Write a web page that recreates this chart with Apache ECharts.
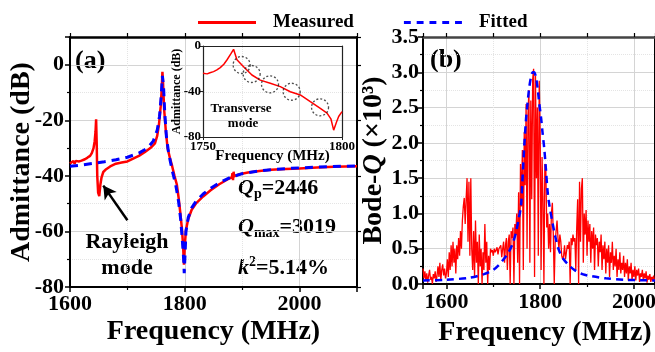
<!DOCTYPE html>
<html><head><meta charset="utf-8">
<script src="https://cdn.jsdelivr.net/npm/echarts@6/dist/echarts.min.js"></script>
<style>html,body{margin:0;padding:0;background:#fff}#c{width:655px;height:352px}</style>
</head><body><div id="c"></div>
<script>
const F = '"Liberation Serif","Times New Roman",serif';

// ---------- panel (a): admittance ----------
const aMeasFreq = [1600,1603,1606,1608,1610,1612,1616,1620,1626,1630,1635,1638,1641,1643,1644.5,1645.5,1646.5,1647.5,1649,1651,1653,1655,1658,1663,1670,1680,1690,1700,1710,1720,1730,1740,1748,1752,1755,1758,1760,1761,1762,1764,1767,1770,1774,1778,1782,1786,1789,1792,1795,1797,1798.5,1800,1802,1806,1812,1820,1832,1845,1860,1875,1882,1883,1884,1885,1886,1888,1895,1910,1930,1950,1975,2000,2030,2060,2100];
const aMeasDb = [-35.5,-35.2,-34.6,-35.6,-34.6,-35.2,-34.8,-34.5,-34,-33.5,-32.8,-31.8,-30,-27.5,-24,-19.6,-28,-40,-46,-47.3,-43,-40.5,-38.6,-37.6,-36.6,-35.6,-35.2,-34.8,-33.8,-32.8,-31.5,-30,-28.3,-25.5,-21.5,-15,-8,-2.5,-6,-16,-24,-30,-33.5,-36.5,-40,-43,-47.5,-53,-59,-65,-72,-65,-59.5,-55.5,-52.2,-49.8,-47.4,-45.2,-43,-41.2,-40.5,-39,-41.5,-38.5,-40.2,-39.8,-39.4,-38.8,-38.2,-37.8,-37.5,-37.3,-37,-36.7,-36.5];
const aFitFreq = [1600,1620,1640,1660,1680,1700,1720,1735,1745,1752,1756,1759,1761,1762,1763,1765,1768,1772,1778,1784,1789,1793,1796,1798,1799,1800.5,1802,1806,1812,1820,1832,1845,1860,1880,1900,1930,1960,2000,2050,2100];
const aFitDb = [-36.5,-36.1,-35.5,-34.9,-34.2,-33.3,-31.8,-30,-27.5,-23.5,-18.5,-11,-4,-3.4,-8,-17,-26,-32,-38,-43,-49,-56,-64,-70,-75,-68,-60,-55,-51.5,-49,-46.5,-44.5,-42.5,-40.5,-39.2,-38.2,-37.6,-37.1,-36.7,-36.4];

// ---------- inset ----------
const insetFreq = [1750,1751.5,1752.5,1753.8,1755,1756.2,1757.5,1758.6,1760,1761,1762.2,1764.6,1767.6,1770.6,1774.2,1777.8,1781.4,1785,1788.6,1792.2,1794.6,1796,1797,1798,1798.8,1800];
const insetDb = [-24,-24.5,-23.5,-22.5,-21,-19,-16,-12.3,-7,-2.9,-12,-18.2,-25.5,-30,-32.8,-35.7,-40.2,-43,-49,-54.8,-59,-64,-74,-67,-62,-57.7];
const circleFreq = [1763.9,1767.5,1774.1,1781.9,1792.1];
const circleDb = [-16.7,-24.6,-33.7,-40.2,-53.9];

// ---------- panel (b): Bode-Q ----------
const bMeasFreq = [1550,1552,1554,1556,1558,1560,1562,1564,1566,1568,1570,1572,1574,1576,1578,1580,1582,1584,1586,1588,1590,1592,1594,1596,1598,1600,1602,1604,1606,1608,1610,1612,1614,1616,1618,1620,1622,1624,1626,1628,1630,1632,1634,1636,1638,1640,1642,1644,1646,1648,1650,1652,1654,1656,1658,1660,1662,1664,1666,1668,1670,1672,1674,1676,1678,1680,1682,1684,1686,1688,1690,1692,1694,1696,1698,1700,1702,1704,1706,1708,1710,1712,1714,1716,1718,1720,1722,1724,1726,1728,1730,1732,1734,1736,1738,1740,1742,1744,1746,1748,1750,1752,1754,1756,1758,1760,1762,1764,1766,1768,1770,1772,1774,1776,1778,1780,1782,1784,1786,1788,1790,1792,1794,1796,1798,1800,1802,1804,1806,1808,1810,1812,1814,1816,1818,1820,1822,1824,1826,1828,1830,1832,1834,1836,1838,1840,1842,1844,1846,1848,1850,1852,1854,1856,1858,1860,1862,1864,1866,1868,1870,1872,1874,1876,1878,1880,1882,1884,1886,1888,1890,1892,1894,1896,1898,1900,1902,1904,1906,1908,1910,1912,1914,1916,1918,1920,1922,1924,1926,1928,1930,1932,1934,1936,1938,1940,1942,1944,1946,1948,1950,1952,1954,1956,1958,1960,1962,1964,1966,1968,1970,1972,1974,1976,1978,1980,1982,1984,1986,1988,1990,1992,1994,1996,1998,2000,2002,2004,2006,2008,2010,2012,2014,2016,2018,2020,2022,2024,2026,2028,2030,2032,2034,2036,2038,2040,2042,2044];
const bMeasQ = [
0.22,0.08,0.18,0.05,0.15,0.02,0.12,0.2,0.06,0.1,
0.0,0.14,0.08,0.18,0.03,0.12,0.25,0.1,0.3,0.05,
0.2,0.28,0.12,0.22,0.08,0.15,0.35,0.1,0.45,0.2,
0.55,0.25,0.6,0.3,0.5,0.15,0.55,0.35,0.65,0.4,
0.75,0.5,0.9,1.1,1.22,0.85,1.2,1.5,0.6,1.45,
0.4,1.5,0.5,0.2,0.75,0.1,0.9,0.3,0.6,0.0,
0.7,0.25,0.5,0.0,0.45,0.2,0.85,0.3,0.6,0.0,
0.4,0.2,0.5,0.45,0.48,0.4,0.5,0.45,0.48,0.52,
0.42,0.5,0.48,0.55,0.38,0.5,0.6,0.3,0.55,0.65,
0.2,0.6,0.7,0.0,0.75,0.65,0.8,0.0,0.85,0.7,
1.0,0.3,1.3,0.0,1.7,1.1,1.9,0.2,2.15,1.4,
2.55,0.5,2.4,2.75,0.3,2.6,1.2,2.9,3.05,0.1,
2.95,1.5,2.5,0.4,2.88,2.1,0.2,1.8,1.2,0.0,
1.7,1.65,0.8,1.0,0.5,0.85,0.45,1.0,1.15,0.7,
0.0,0.6,0.75,0.9,0.65,0.5,0.7,0.6,0.4,0.35,
0.4,0.55,0.35,0.45,0.55,0.5,0.6,0.0,0.65,0.55,
0.7,0.6,0.65,0.2,0.8,1.2,0.0,1.45,0.6,1.35,
1.5,0.3,1.0,0.7,1.05,0.4,0.9,0.6,0.85,0.3,
0.75,0.5,0.8,0.2,0.7,0.55,0.65,0.25,0.6,0.45,
0.7,0.2,0.55,0.35,0.6,0.15,0.5,0.3,0.55,0.1,
0.45,0.3,0.6,0.2,0.4,0.25,0.5,0.1,0.35,0.2,
0.45,0.15,0.3,0.2,0.4,0.1,0.3,0.15,0.35,0.05,
0.25,0.15,0.3,0.05,0.2,0.1,0.25,0.05,0.2,0.12,
0.22,0.03,0.15,0.1,0.2,0.05,0.15,0.08,0.18,0.02,
0.12,0.06,0.14,0.03,0.1,0.05,0.12,0.04];
const bFitFreq = [1550,1600,1650,1680,1700,1712,1722,1730,1740,1748,1754,1759,1762,1766,1770,1773,1777,1781,1784,1787,1791,1795,1798,1802,1805,1809,1812,1816,1820,1826,1832,1840,1850,1862,1875,1890,1910,1940,1980,2045];
const bFitQ = [0.05,0.06,0.09,0.14,0.2,0.27,0.35,0.42,0.55,0.72,0.92,1.1,1.45,1.95,2.35,2.56,2.8,2.95,3.0,3.0,2.93,2.75,2.56,2.35,2.15,1.9,1.65,1.3,1.1,0.88,0.68,0.48,0.35,0.26,0.19,0.14,0.11,0.08,0.06,0.05];

const legendNames = ['Measured', 'Fitted'];

const zip = (xs, ys) => xs.map((x, i) => [x, ys[i]]);
const lbl = (size) => ({fontFamily: F, fontWeight: 'bold', fontSize: size, color: '#000'});
const plain = v => String(v);
const gridLine = {show: true, lineStyle: {color: '#d4d4d4', width: 1}};
const minorGrid = {show: true, lineStyle: {color: '#e4e4e4', width: 1, type: 'dotted'}};

function mainAxis(opts) {
  return Object.assign({
    type: 'value',
    axisLine: {show: true, onZero: false, lineStyle: {color: '#000', width: 2}},
    axisTick: {show: true, length: 5, lineStyle: {color: '#000', width: 1.5}},
    minorTick: {show: true, splitNumber: 2, length: 3, lineStyle: {color: '#000', width: 1.2}},
    splitLine: gridLine,
    minorSplitLine: minorGrid,
    nameMoveOverlap: false
  }, opts);
}
function frameAxis(opts) {
  return Object.assign({
    type: 'value',
    axisLine: {show: true, onZero: false, lineStyle: {color: '#000', width: 2}},
    axisTick: {show: true, length: 4, lineStyle: {color: '#000', width: 1.2}},
    minorTick: {show: false},
    axisLabel: {show: false},
    splitLine: {show: false}
  }, opts);
}

const option = {
  animation: false,
  backgroundColor: '#fff',
  legend: {
    data: [
      {name: legendNames[0], icon: 'path://M0,0h60v3h-60z'},
      {name: legendNames[1], icon: 'path://M0,0h7v3h-7zM13,0h7v3h-7zM26,0h7v3h-7zM39,0h7v3h-7zM52,0h7v3h-7z'}
    ],
    left: 193, top: 8,
    itemWidth: 58, itemHeight: 3, itemGap: 50,
    textStyle: Object.assign(lbl(19), {padding: [0, 0, 0, 12]})
  },
  grid: [
    {left: 70, top: 37, width: 287, height: 250, outerBoundsMode: 'none'},
    {left: 203, top: 46, width: 139, height: 91, outerBoundsMode: 'none'},
    {left: 423, top: 37, width: 232, height: 247, outerBoundsMode: 'none'}
  ],
  xAxis: [
    mainAxis({gridIndex: 0, position: 'bottom', min: 1600, max: 2100, interval: 200,
      axisLabel: Object.assign(lbl(22), {margin: 6, showMaxLabel: false, formatter: plain}),
      name: 'Frequency (MHz)', nameLocation: 'middle', nameGap: 31, nameTextStyle: lbl(28)}),
    frameAxis({gridIndex: 0, position: 'top', min: 1600, max: 2100, interval: 100,
      axisLine: {show: true, onZero: false, lineStyle: {color: '#000', width: 2.5}}}),
    {gridIndex: 1, type: 'value', position: 'bottom', min: 1750, max: 1800, interval: 50,
      axisLine: {show: true, onZero: false, lineStyle: {color: '#222', width: 1.2}},
      axisTick: {show: true, length: 3, lineStyle: {color: '#222'}},
      splitLine: {show: false},
      axisLabel: Object.assign(lbl(13), {margin: 3, formatter: plain}),
      name: 'Frequency (MHz)', nameLocation: 'middle', nameGap: 12, nameTextStyle: lbl(15), nameMoveOverlap: false},
    {gridIndex: 1, type: 'value', position: 'top', min: 1750, max: 1800, interval: 50,
      axisLine: {show: true, onZero: false, lineStyle: {color: '#222', width: 1.2}},
      axisTick: {show: false}, axisLabel: {show: false}, splitLine: {show: false}},
    mainAxis({gridIndex: 2, position: 'bottom', min: 1550, max: 2045, minInterval: 200, maxInterval: 200,
      axisLabel: Object.assign(lbl(22), {margin: 7, showMinLabel: false, showMaxLabel: false, formatter: plain}),
      name: 'Frequency (MHz)', nameLocation: 'middle', nameGap: 35, nameTextStyle: Object.assign(lbl(28), {padding: [0, 0, 0, 12]})}),
    frameAxis({gridIndex: 2, position: 'top', min: 1550, max: 2045, minInterval: 100, maxInterval: 100,
      axisLine: {show: true, onZero: false, lineStyle: {color: '#444', width: 2.5}}})
  ],
  yAxis: [
    mainAxis({gridIndex: 0, position: 'left', min: -80, max: 10, interval: 20,
      axisLabel: Object.assign(lbl(22), {margin: 6, showMaxLabel: false}),
      name: 'Admittance (dB)', nameLocation: 'middle', nameGap: 34, nameTextStyle: lbl(28)}),
    frameAxis({gridIndex: 0, position: 'right', min: -80, max: 10, interval: 20}),
    {gridIndex: 1, type: 'value', position: 'left', min: -80, max: 0, interval: 40,
      axisLine: {show: true, onZero: false, lineStyle: {color: '#222', width: 1.2}},
      axisTick: {show: true, length: 3, lineStyle: {color: '#222'}},
      splitLine: {show: false},
      axisLabel: Object.assign(lbl(13), {margin: 2}),
      name: 'Admittance (dB)', nameLocation: 'middle', nameGap: 20, nameTextStyle: lbl(12), nameMoveOverlap: false},
    {gridIndex: 1, type: 'value', position: 'right', min: -80, max: 0, interval: 40,
      axisLine: {show: true, onZero: false, lineStyle: {color: '#222', width: 1.2}},
      axisTick: {show: false}, axisLabel: {show: false}, splitLine: {show: false}},
    mainAxis({gridIndex: 2, position: 'left', min: 0, max: 3.5, interval: 0.5,
      axisLabel: Object.assign(lbl(22), {margin: 4, formatter: v => v.toFixed(1)}),
      name: 'Bode-{q|Q} (×10³)', nameLocation: 'middle', nameGap: 35,
      nameTextStyle: Object.assign(lbl(28), {rich: {q: {fontFamily: F, fontWeight: 'bold', fontStyle: 'italic', fontSize: 28}}})}),
    frameAxis({gridIndex: 2, position: 'right', min: 0, max: 3.5, interval: 0.5})
  ],
  series: [
    {name: 'Measured', type: 'line', xAxisIndex: 0, yAxisIndex: 0, data: zip(aMeasFreq, aMeasDb),
      symbol: 'none', lineStyle: {color: '#ff0000', width: 2.5}, itemStyle: {color: '#ff0000'}, z: 3,
      markLine: {silent: true, symbol: ['none', 'arrow'], symbolSize: [11, 13], label: {show: false},
        lineStyle: {color: '#000', width: 2.5, type: 'solid'},
        data: [[{coord: [1700, -56]}, {coord: [1658, -43.5]}]]}},
    {name: 'Fitted', type: 'line', xAxisIndex: 0, yAxisIndex: 0, data: zip(aFitFreq, aFitDb),
      symbol: 'none', lineStyle: {color: '#0000ff', width: 3, type: [8, 6]}, itemStyle: {color: '#0000ff'}, z: 4},
    {name: 'inset', type: 'line', xAxisIndex: 2, yAxisIndex: 2, data: zip(insetFreq, insetDb),
      symbol: 'none', lineStyle: {color: '#ff0000', width: 1.5}, z: 3},
    {name: 'circles', type: 'scatter', xAxisIndex: 2, yAxisIndex: 2, data: zip(circleFreq, circleDb),
      symbol: 'circle', symbolSize: 17,
      itemStyle: {color: 'rgba(0,0,0,0)', borderColor: '#222', borderWidth: 1.3, borderType: [2, 2]}, z: 5},
    {name: 'Measured', type: 'line', xAxisIndex: 4, yAxisIndex: 4, data: zip(bMeasFreq, bMeasQ),
      symbol: 'none', lineStyle: {color: '#ff0000', width: 1.3}, itemStyle: {color: '#ff0000'}, z: 3},
    {name: 'Fitted', type: 'line', xAxisIndex: 4, yAxisIndex: 4, data: zip(bFitFreq, bFitQ),
      symbol: 'none', smooth: 0.3, lineStyle: {color: '#0000ff', width: 2.5, type: [7, 5]}, itemStyle: {color: '#0000ff'}, z: 4}
  ],
  graphic: [
    {type: 'text', x: 75, y: 61, style: {text: '(a)', font: 'bold 26px ' + F, fill: '#000', verticalAlign: 'middle'}},
    {type: 'text', x: 430, y: 60, style: {text: '(b)', font: 'bold 26px ' + F, fill: '#000', verticalAlign: 'middle'}},
    {type: 'text', x: 127, y: 242, style: {text: 'Rayleigh', font: 'bold 22px ' + F, fill: '#000', align: 'center', verticalAlign: 'middle'}},
    {type: 'text', x: 127, y: 268, style: {text: 'mode', font: 'bold 22px ' + F, fill: '#000', align: 'center', verticalAlign: 'middle'}},
    {type: 'text', x: 241, y: 109, style: {text: 'Transverse', font: 'bold 13px ' + F, fill: '#000', align: 'center', verticalAlign: 'middle'}},
    {type: 'text', x: 243, y: 124, style: {text: 'mode', font: 'bold 13px ' + F, fill: '#000', align: 'center', verticalAlign: 'middle'}},
    {type: 'text', x: 238, y: 188, style: {text: '{q|Q}{s|p}{n|=2446}', verticalAlign: 'middle',
      rich: {q: {fontFamily: F, fontWeight: 'bold', fontStyle: 'italic', fontSize: 22, lineHeight: 26, fill: '#000'},
             s: {fontFamily: F, fontWeight: 'bold', fontSize: 14, lineHeight: 14, verticalAlign: 'bottom', fill: '#000'},
             n: {fontFamily: F, fontWeight: 'bold', fontSize: 22, lineHeight: 26, fill: '#000'}}}},
    {type: 'text', x: 238, y: 227, style: {text: '{q|Q}{s|max}{n|=3019}', verticalAlign: 'middle',
      rich: {q: {fontFamily: F, fontWeight: 'bold', fontStyle: 'italic', fontSize: 22, lineHeight: 26, fill: '#000'},
             s: {fontFamily: F, fontWeight: 'bold', fontSize: 14, lineHeight: 14, verticalAlign: 'bottom', fill: '#000'},
             n: {fontFamily: F, fontWeight: 'bold', fontSize: 22, lineHeight: 26, fill: '#000'}}}},
    {type: 'text', x: 238, y: 268, style: {text: '{q|k}{s|2}{n|=5.14%}', verticalAlign: 'middle',
      rich: {q: {fontFamily: F, fontWeight: 'bold', fontStyle: 'italic', fontSize: 22, lineHeight: 26, fill: '#000'},
             s: {fontFamily: F, fontWeight: 'bold', fontSize: 14, lineHeight: 14, verticalAlign: 'top', fill: '#000'},
             n: {fontFamily: F, fontWeight: 'bold', fontSize: 22, lineHeight: 26, fill: '#000'}}}}
  ]
};

const chart = echarts.init(document.getElementById('c'), null, {renderer: 'canvas'});
chart.setOption(option);
</script>
</body></html>
